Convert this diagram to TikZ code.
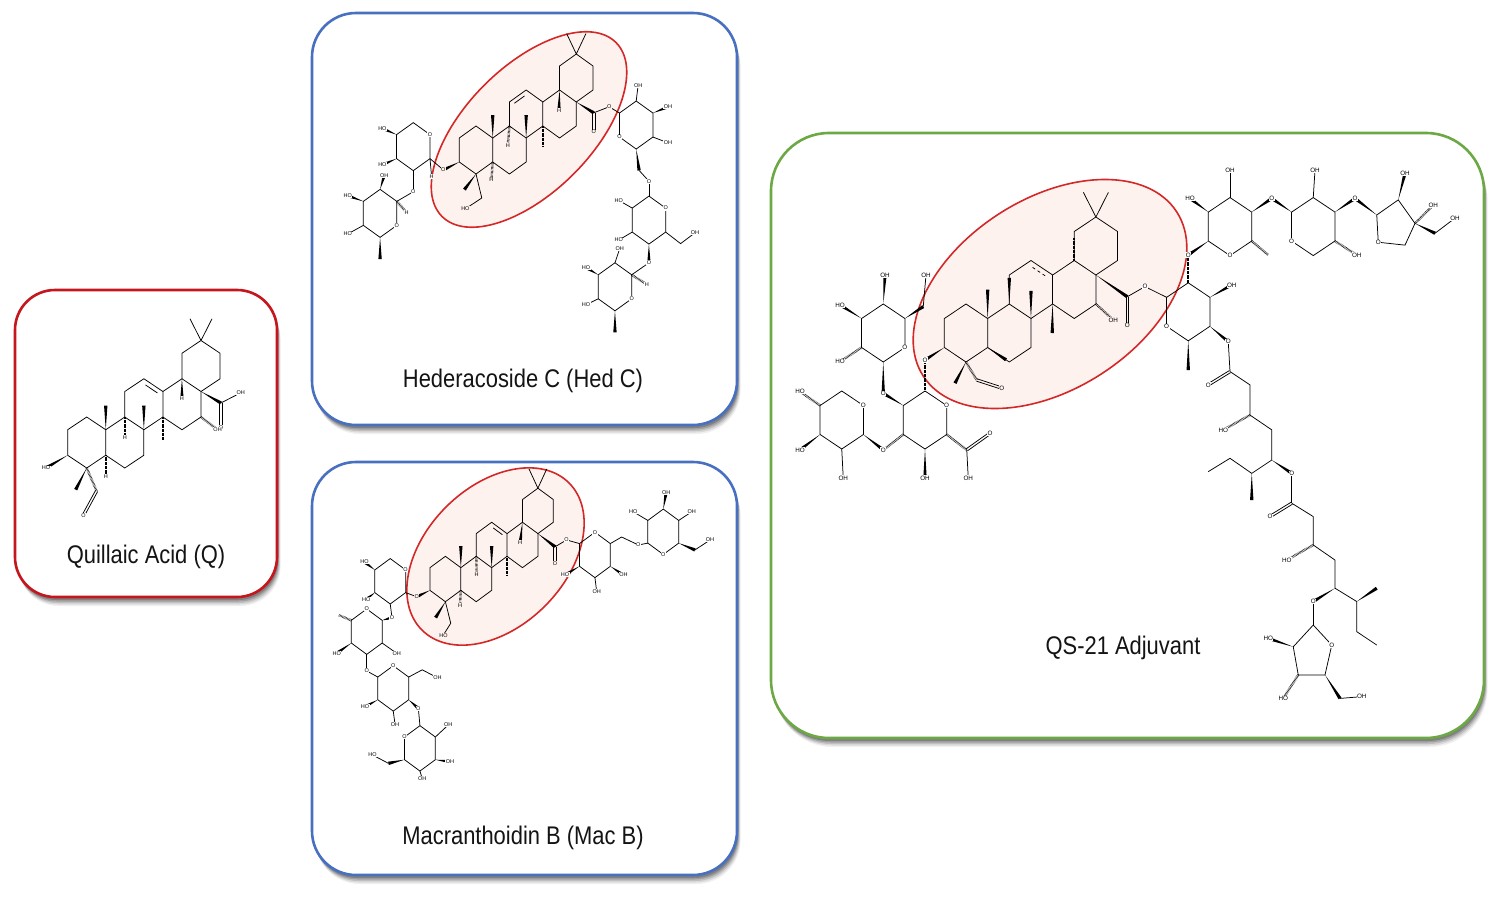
\documentclass[tikz,border=0pt]{standalone}
\usepackage{fontspec}
\setmainfont{Liberation Sans}
\usepackage{graphicx}
\usetikzlibrary{calc}
\pgfdeclarelayer{front}
\pgfsetlayers{main,front}
\definecolor{ef}{RGB}{253,242,238}
\definecolor{qred}{RGB}{196,22,28}
\definecolor{bblue}{RGB}{72,112,192}
\definecolor{ggreen}{RGB}{108,168,68}
\definecolor{ered}{RGB}{212,40,40}
\newcounter{lbn}
\tikzset{
 bd/.style={line width=0.75pt},
 hashb/.style={line width=2.4pt, dash pattern=on 0.45pt off 0.85pt},
 lab/.style={font=\fontsize{5.5}{5.5}\selectfont, inner sep=0.5pt, fill=white},
 title/.style={font=\fontsize{25.5}{28}\selectfont, text=black!92, inner sep=0pt},
 box/.style={line width=2.6pt, fill=white},
 ell/.style={draw=ered, line width=1.6pt, fill=ef},
}
\newcommand{\alab}[3][]{\stepcounter{lbn}\begin{pgfonlayer}{front}\node[lab,#1] (lb\arabic{lbn}) at #2 {#3};\end{pgfonlayer}}
\newcommand{\wdg}[2]{\fill #1 -- ($#2!1.7pt!90:#1$) -- ($#2!1.7pt!-90:#1$) -- cycle;}
\newcommand{\hsh}[2]{\draw[hashb] #1 -- #2;}
\newcommand{\dbl}[2]{\draw[bd] ($#1!1.2pt!90:#2$) -- ($#2!1.2pt!-90:#1$); \draw[bd] ($#1!1.2pt!-90:#2$) -- ($#2!1.2pt!90:#1$);}
\newcommand{\bondS}[4][]{\draw[bd] #2 -- #3; \alab[#1]{#3}{#4}}
\newcommand{\bondW}[4][]{\wdg{#2}{#3}\alab[#1]{#3}{#4}}
\newcommand{\bondH}[4][]{\hsh{#2}{#3}\alab[#1]{#3}{#4}}
\newcommand{\innerdb}[4][]{\draw[bd,#1,shorten <=2pt,shorten >=2pt] ($#2!0.2!#4$) -- ($#3!0.2!#4$);}
\newcommand{\hexr}[2]{%
 \coordinate (#1-0) at ($#2+(0,1)$);
 \coordinate (#1-1) at ($#2+(0.866,0.5)$);
 \coordinate (#1-2) at ($#2+(0.866,-0.5)$);
 \coordinate (#1-3) at ($#2+(0,-1)$);
 \coordinate (#1-4) at ($#2+(-0.866,-0.5)$);
 \coordinate (#1-5) at ($#2+(-0.866,0.5)$);
 \draw[bd] (#1-0)--(#1-1)--(#1-2)--(#1-3)--(#1-4)--(#1-5)--cycle;}
\newcommand{\skel}[1]{%
 \coordinate (#1c1) at (0,1);
 \coordinate (#1c2) at (-0.866,0.5);
 \coordinate (#1c3) at (-0.866,-0.5);
 \coordinate (#1c4) at (0,-1);
 \coordinate (#1c5) at (0.866,-0.5);
 \coordinate (#1c10) at (0.866,0.5);
 \coordinate (#1c9) at (1.732,1);
 \coordinate (#1c8) at (2.598,0.5);
 \coordinate (#1c7) at (2.598,-0.5);
 \coordinate (#1c6) at (1.732,-1);
 \coordinate (#1c11) at (1.732,2);
 \coordinate (#1c12) at (2.598,2.5);
 \coordinate (#1c13) at (3.464,2);
 \coordinate (#1c14) at (3.464,1);
 \coordinate (#1c18) at (4.330,2.5);
 \coordinate (#1c17) at (5.196,2);
 \coordinate (#1c16) at (5.196,1);
 \coordinate (#1c15) at (4.330,0.5);
 \coordinate (#1c19) at (4.330,3.5);
 \coordinate (#1c20) at (5.196,4);
 \coordinate (#1c21) at (6.062,3.5);
 \coordinate (#1c22) at (6.062,2.5);
 \coordinate (#1cc) at (2.598,1.5);
 \draw[bd] (#1c1)--(#1c2)--(#1c3)--(#1c4)--(#1c5)--(#1c10)--cycle;
 \draw[bd] (#1c5)--(#1c6)--(#1c7)--(#1c8)--(#1c9)--(#1c10);
 \draw[bd] (#1c9)--(#1c11)--(#1c12)--(#1c13)--(#1c14)--(#1c8);
 \draw[bd] (#1c13)--(#1c18)--(#1c17)--(#1c16)--(#1c15)--(#1c14);
 \draw[bd] (#1c18)--(#1c19)--(#1c20)--(#1c21)--(#1c22)--(#1c17);
 \draw[bd] (#1c20) -- ++(-0.5,0.85) (#1c20) -- ++(0.5,0.85);}
\newcommand{\shbox}[3]{%
 \foreach \sd/\sop in {9/0.06,7.5/0.09,6/0.12,4.5/0.16,3/0.2}{%
 \fill[black, opacity=\sop, rounded corners=#3] ($#1+(0.4*\sd,\sd)$) rectangle ($#2+(0.4*\sd,\sd)$);}}
\begin{document}
\begin{tikzpicture}[x=1pt,y=-1pt]
\useasboundingbox (0,0) rectangle (1500,900);
\fill[white] (0,0) rectangle (1500,900);
% ---------- boxes ----------
\shbox{(15,290)}{(277,597)}{40pt}
\shbox{(312,13)}{(737,425)}{44pt}
\shbox{(312,462)}{(737,875)}{44pt}
\shbox{(771,133)}{(1484,738)}{58pt}
\draw[box, draw=qred, rounded corners=40pt] (15,290) rectangle (277,597);
\draw[box, draw=bblue, rounded corners=44pt] (312,13) rectangle (737,425);
\draw[box, draw=bblue, rounded corners=44pt] (312,462) rectangle (737,875);
\draw[box, draw=ggreen, rounded corners=58pt] (771,133) rectangle (1484,738);
% ---------- ellipses ----------
\draw[ell, rotate around={45:(529,129.5)}] (529,129.5) ellipse [x radius=123pt, y radius=63pt];
\draw[ell, rotate around={45:(495.5,556.5)}] (495.5,556.5) ellipse [x radius=104pt, y radius=70pt];
\draw[ell, rotate around={33:(1050,294)}] (1050,294) ellipse [x radius=151pt, y radius=95pt];
% ---------- titles ----------
\node[title] (tq) at (146,557) {\scalebox{0.86}[1]{Quillaic Acid (Q)}};
\node[title] (th) at (523,381) {\scalebox{0.86}[1]{Hederacoside C (Hed C)}};
\node[title] (tm) at (523,838) {\scalebox{0.86}[1]{Macranthoidin B (Mac B)}};
\node[title] (ts) at (1123,648) {\scalebox{0.86}[1]{QS-21 Adjuvant}};
% ================= Quillaic acid =================
\begin{scope}[shift={(86.7,442.5)}, x=22pt, y=25.5pt]
\skel{q}
\innerdb{(qc12)}{(qc13)}{(qcc)}
\wdg{(qc10)}{(0.866,1.45)}
\wdg{(qc8)}{(2.598,1.45)}
\hsh{(qc14)}{(3.464,0.1)}
\bondH{(qc9)}{(1.732,0.2)}{H}
\bondH{(qc5)}{(0.866,-1.35)}{H}
\bondW{(qc18)}{(4.33,1.72)}{H}
\bondW{(qc3)}{(-1.85,-1.0)}{HO}
\wdg{(qc4)}{(-0.5,-1.85)}
\hsh{(qc4)}{(0.45,-1.9)}
\dbl{(0.45,-1.9)}{(-0.15,-2.85)}
\alab{(-0.15,-2.85)}{O}
\wdg{(qc17)}{(6.1,1.55)}
\bondS{(6.1,1.55)}{(7.0,1.95)}{OH}
\dbl{(6.1,1.55)}{(6.1,0.6)}
\alab{(6.1,0.6)}{O}
\bondH{(qc16)}{(5.95,0.5)}{OH}
\end{scope}
% ================= Hederacoside C =================
\begin{scope}[shift={(476,150)}, x=19.3pt, y=24pt]
\skel{h}
\innerdb{(hc11)}{(hc12)}{(hcc)}
\wdg{(hc10)}{(0.866,1.45)}
\wdg{(hc8)}{(2.598,1.45)}
\hsh{(hc14)}{(3.464,0.15)}
\bondH[fill=ef]{(hc9)}{(1.65,0.2)}{H}
\bondH[fill=ef]{(hc5)}{(0.8,-1.25)}{H}
\bondW[fill=ef]{(hc18)}{(4.3,1.65)}{H}
\bondW[fill=ef]{(hc3)}{(-1.69,-0.83)}{O}
\wdg{(hc4)}{(-0.6,-1.65)}
\draw[bd] (hc4) -- (0.3,-2.0) -- (-0.55,-2.45);
\alab[fill=ef]{(-0.55,-2.45)}{HO}
\wdg{(hc17)}{(6.1,1.55)}
\dbl{(6.1,1.55)}{(6.1,0.75)}
\alab[fill=ef]{(6.1,0.75)}{O}
\bondS[fill=ef]{(6.1,1.55)}{(6.9,1.8)}{O}
% sugar 1
\hexr{hsa}{(-3.25,0.14)}
\alab{(hsa-1)}{O}
\bondW{(hsa-5)}{(-4.85,0.9)}{HO}
\bondW{(hsa-4)}{(-4.85,-0.62)}{HO}
\draw[bd] (hsa-2) -- (-1.69,-0.83);
\bondS{(hsa-2)}{(-2.3,-1.1)}{H}
\bondS{(hsa-3)}{(-3.25,-1.74)}{O}
% sugar 2
\hexr{hsb}{(-4.97,-2.64)}
\alab{(hsb-2)}{O}
\draw[bd] (-3.25,-1.74) -- (hsb-1);
\bondH{(hsb-1)}{(-3.6,-2.6)}{H}
\wdg{(hsb-3)}{(-4.97,-4.55)}
\bondS{(hsb-4)}{(-6.65,-3.5)}{HO}
\bondW{(hsb-5)}{(-6.65,-1.9)}{HO}
\bondW{(hsb-0)}{(-4.75,-1.05)}{OH}
% glucose 1
\hexr{hga}{(8.3,1.04)}
\alab{(hga-4)}{O}
\draw[bd] (6.9,1.8) -- (hga-5);
\bondS{(hga-0)}{(8.4,2.7)}{OH}
\bondW{(hga-1)}{(9.95,1.8)}{OH}
\bondS{(hga-2)}{(9.95,0.3)}{OH}
\wdg{(hga-3)}{(8.45,-0.85)}
\draw[bd] (8.45,-0.85) -- (8.96,-1.3);
\alab{(8.96,-1.3)}{O}
% glucose 2
\hexr{hgb}{(8.96,-2.92)}
\draw[bd] (8.96,-1.3) -- (hgb-0);
\alab{(hgb-1)}{O}
\draw[bd] (hgb-2) -- (10.6,-3.9) -- (11.35,-3.45);
\alab{(11.35,-3.45)}{OH}
\wdg{(hgb-3)}{(8.96,-4.7)}
\alab{(8.96,-4.7)}{O}
\bondS{(hgb-4)}{(7.4,-3.75)}{HO}
\bondS{(hgb-5)}{(7.4,-2.1)}{HO}
% rhamnose 2
\hexr{hrb}{(7.2,-5.7)}
\draw[bd] (8.96,-4.7) -- (hrb-1);
\alab{(hrb-2)}{O}
\bondH{(hrb-1)}{(8.85,-5.6)}{H}
\wdg{(hrb-3)}{(7.2,-7.6)}
\bondS{(hrb-4)}{(5.7,-6.45)}{HO}
\bondW{(hrb-5)}{(5.7,-4.9)}{HO}
\bondS{(hrb-0)}{(7.45,-4.1)}{OH}
\end{scope}
% ================= Macranthoidin B =================
\begin{scope}[shift={(445.4,579)}, x=17.8pt, y=22.7pt]
\skel{m}
\innerdb{(mc12)}{(mc13)}{(mcc)}
\wdg{(mc10)}{(0.866,1.45)}
\wdg{(mc8)}{(2.598,1.45)}
\hsh{(mc14)}{(3.464,0.15)}
\bondH[fill=ef]{(mc9)}{(1.76,0.2)}{H}
\bondH[fill=ef]{(mc5)}{(0.82,-1.15)}{H}
\bondW[fill=ef]{(mc18)}{(4.2,1.6)}{H}
\bondW[fill=ef]{(mc3)}{(-1.61,-0.78)}{O}
\wdg{(mc4)}{(-0.55,-1.7)}
\draw[bd] (mc4) -- (0.3,-1.95) -- (-0.1,-2.45);
\alab[fill=ef]{(-0.1,-2.5)}{HO}
\wdg{(mc17)}{(6.16,1.42)}
\dbl{(6.16,1.42)}{(6.16,0.7)}
\alab[fill=ef]{(6.16,0.7)}{O}
\bondS{(6.16,1.42)}{(6.81,1.72)}{O}
% arabinose
\hexr{msa}{(-3.1,-0.1)}
\alab{(msa-1)}{O}
\draw[bd] (msa-2) -- (-1.61,-0.78);
\bondS{(msa-3)}{(-3.0,-1.7)}{O}
\bondW{(msa-5)}{(-4.55,0.75)}{HO}
\bondW{(msa-4)}{(-4.45,-0.9)}{HO}
% rhamnose
\hexr{msb}{(-4.42,-2.32)}
\alab{(msb-0)}{O}
\wdg{(msb-1)}{(-3.0,-1.7)}
\bondS{(msb-2)}{(-2.74,-3.27)}{OH}
\bondS{(msb-3)}{(-4.42,-4.05)}{O}
\bondW{(msb-4)}{(-6.1,-3.27)}{HO}
\hsh{(msb-5)}{(-6.0,-1.59)}
% glucose
\hexr{msc}{(-2.93,-4.82)}
\alab{(msc-0)}{O}
\draw[bd] (-4.42,-4.05) -- (msc-5);
\draw[bd] (msc-1) -- (-1.3,-4.0) -- (-0.45,-4.35);
\alab{(-0.45,-4.35)}{OH}
\bondW{(msc-2)}{(-1.52,-5.7)}{O}
\bondS{(msc-3)}{(-2.83,-6.4)}{OH}
\bondW{(msc-4)}{(-4.52,-5.63)}{HO}
% glucose bottom
\hexr{msd}{(-1.43,-7.46)}
\alab{(msd-5)}{O}
\draw[bd] (-1.52,-5.7) -- (msd-0);
\bondS{(msd-1)}{(0.16,-6.43)}{OH}
\bondW{(msd-2)}{(0.26,-8.05)}{OH}
\bondS{(msd-3)}{(-1.3,-8.8)}{OH}
\wdg{(msd-4)}{(-3.2,-8.12)}
\draw[bd] (-3.2,-8.12) -- (-4.1,-7.75);
\alab{(-4.1,-7.75)}{HO}
% right glucose 1
\hexr{mga}{(8.4,1.06)}
\alab{(mga-0)}{O}
\draw[bd] (6.81,1.72) -- (mga-5);
\draw[bd] (mga-1) -- (9.9,1.85) -- (10.84,1.5);
\alab{(10.84,1.5)}{O}
\bondW{(mga-2)}{(10,0.18)}{OH}
\bondS{(mga-3)}{(8.5,-0.56)}{OH}
\bondW{(mga-4)}{(6.72,0.18)}{HO}
% right glucose 2
\hexr{mgb}{(12.24,2.08)}
\alab{(mgb-3)}{O}
\draw[bd] (10.84,1.5) -- (mgb-4);
\bondS{(mgb-5)}{(10.56,2.96)}{HO}
\bondW{(mgb-0)}{(12.4,3.8)}{OH}
\bondS{(mgb-1)}{(13.84,2.96)}{OH}
\wdg{(mgb-2)}{(14.02,1.28)}
\draw[bd] (14.02,1.28) -- (14.87,1.72);
\alab{(14.87,1.72)}{OH}
\end{scope}
% ================= QS-21 =================
\begin{scope}[shift={(966,333)}, x=25pt, y=29pt, lab/.append style={font=\fontsize{6.3}{6.3}\selectfont}]
\skel{s}
\innerdb[dashed]{(sc12)}{(sc13)}{(scc)}
\wdg{(sc10)}{(0.866,1.5)}
\wdg{(sc8)}{(2.598,1.45)}
\wdg{(sc9)}{(1.732,1.9)}
\wdg{(sc14)}{(3.45,0.0)}
\hsh{(sc18)}{(4.33,3.3)}
\wdg{(sc5)}{($(sc5)!0.85!(sc6)$)}
\bondW{(sc3)}{(-1.64,-0.93)}{O}
\wdg{(sc4)}{(-0.44,-1.73)}
\hsh{(sc4)}{(0.43,-1.62)}
\dbl{(0.43,-1.62)}{(1.43,-1.9)}
\alab[fill=ef]{(1.43,-1.9)}{O}
\wdg{(sc17)}{(6.45,1.25)}
\dbl{(6.45,1.25)}{(6.45,0.25)}
\alab[fill=ef]{(6.45,0.25)}{O}
\bondS{(6.45,1.25)}{(7.16,1.6)}{O}
\bondH[fill=ef]{(sc16)}{(5.89,0.45)}{OH}
% glucuronic acid
\hexr{ssa}{(-1.64,-3.0)}
\alab{(ssa-1)}{O}
\hsh{(ssa-0)}{(-1.64,-1.05)}
\hsh{(ssa-2)}{(0.03,-4.03)}
\dbl{(0.03,-4.03)}{(0.96,-3.46)}
\alab{(0.96,-3.46)}{O}
\bondS{(0.03,-4.03)}{(0.09,-5.0)}{OH}
\bondW{(ssa-3)}{(-1.64,-5.0)}{OH}
\bondH{(ssa-4)}{(-3.31,-4.03)}{O}
\bondW{(ssa-5)}{(-3.31,-2.08)}{O}
% galactose
\hexr{ssg}{(-3.31,0)}
\alab{(ssg-2)}{O}
\wdg{(ssg-3)}{(-3.31,-2.08)}
\wdg{(ssg-1)}{(-1.71,0.91)}
\draw[bd] (-1.71,0.91) -- (-1.6,2.0);
\alab{(-1.6,2.0)}{OH}
\bondW{(ssg-0)}{(-3.24,2.0)}{OH}
\bondW{(ssg-5)}{(-5.04,0.97)}{HO}
\bondH{(ssg-4)}{(-5.04,-0.99)}{HO}
% xylose
\hexr{ssx}{(-4.97,-3.0)}
\alab{(ssx-1)}{O}
\wdg{(ssx-2)}{(-3.31,-4.03)}
\bondH{(ssx-5)}{(-6.64,-2.02)}{HO}
\bondW{(ssx-4)}{(-6.64,-4.03)}{HO}
\bondS{(ssx-3)}{(-4.91,-5.0)}{OH}
% fucose
\hexr{ssf}{(8.89,0.73)}
\alab{(ssf-4)}{O}
\draw[bd] (7.16,1.6) -- (ssf-5);
\bondW{(ssf-1)}{(10.63,1.66)}{OH}
\bondW{(ssf-2)}{(10.49,-0.3)}{O}
\wdg{(ssf-3)}{(8.89,-1.28)}
\bondH{(ssf-0)}{(8.89,2.69)}{O}
% rhamnose
\hexr{ssr}{(10.56,3.67)}
\alab{(ssr-3)}{O}
\wdg{(ssr-4)}{(8.89,2.69)}
\bondS{(ssr-0)}{(10.56,5.62)}{OH}
\bondW{(ssr-5)}{(8.96,4.64)}{HO}
\bondW{(ssr-1)}{(12.23,4.64)}{O}
\hsh{(ssr-2)}{(12.09,2.69)}
% xylose 2
\hexr{ssy}{(13.89,3.67)}
\alab{(ssy-4)}{O}
\wdg{(ssy-5)}{(12.23,4.64)}
\bondS{(ssy-0)}{(13.96,5.62)}{OH}
\bondW{(ssy-1)}{(15.56,4.64)}{O}
\bondH{(ssy-2)}{(15.63,2.69)}{OH}
% apiose
\coordinate (sp1) at (16.43,4.07);
\coordinate (sp2) at (17.29,4.59);
\coordinate (sp3) at (17.96,3.78);
\coordinate (sp4) at (17.56,3.03);
\coordinate (spo) at (16.49,3.13);
\draw[bd] (sp1)--(sp2)--(sp3)--(sp4)--(spo)--cycle;
\alab{(spo)}{O}
\wdg{(sp1)}{(15.56,4.64)}
\bondW{(sp2)}{(17.56,5.51)}{OH}
\bondH{(sp3)}{(18.69,4.41)}{OH}
\wdg{(sp3)}{(18.76,3.44)}
\draw[bd] (18.76,3.44) -- (19.56,3.96);
\alab{(19.56,3.96)}{OH}
% acyl chain
\coordinate (k1) at (10.56,-1.33);
\draw[bd] (10.49,-0.3) -- (k1);
\dbl{(k1)}{(9.69,-1.79)}
\alab{(9.69,-1.79)}{O}
\draw[bd] (k1) -- (11.36,-1.79) -- (11.36,-2.83) -- (12.23,-3.34) -- (12.23,-4.38);
\bondH{(11.36,-2.83)}{(10.29,-3.34)}{HO}
\draw[bd] (12.23,-4.38) -- (11.43,-4.84) -- (10.56,-4.32) -- (9.69,-4.78);
\wdg{(11.43,-4.84)}{(11.43,-5.76)}
\bondW{(12.23,-4.38)}{(13.03,-4.84)}{O}
\coordinate (k2) at (13.03,-5.87);
\draw[bd] (13.03,-4.84) -- (k2);
\dbl{(k2)}{(12.16,-6.33)}
\alab{(12.16,-6.33)}{O}
\draw[bd] (k2) -- (13.89,-6.33) -- (13.89,-7.31) -- (14.76,-7.83) -- (14.76,-8.8);
\bondH{(13.89,-7.31)}{(12.83,-7.83)}{HO}
\bondW{(14.76,-8.8)}{(13.89,-9.26)}{O}
\draw[bd] (14.76,-8.8) -- (15.63,-9.26) -- (15.63,-10.3) -- (16.43,-10.76);
\wdg{(15.63,-9.26)}{(16.43,-8.8)}
% arabinofuranose
\coordinate (sq1) at (13.89,-10.07);
\coordinate (sqo) at (14.63,-10.76);
\coordinate (sq4) at (14.36,-11.79);
\coordinate (sq3) at (13.29,-11.79);
\coordinate (sq2) at (13.09,-10.82);
\draw[bd] (13.89,-9.26) -- (sq1);
\draw[bd] (sq1)--(sqo)--(sq4)--(sq3)--(sq2)--cycle;
\alab{(sqo)}{O}
\bondW{(sq2)}{(12.09,-10.53)}{HO}
\bondH{(sq3)}{(12.69,-12.6)}{HO}
\wdg{(sq4)}{(14.96,-12.6)}
\draw[bd] (14.96,-12.6) -- (15.83,-12.54);
\alab{(15.83,-12.54)}{OH}
\end{scope}
\end{tikzpicture}
\end{document}
